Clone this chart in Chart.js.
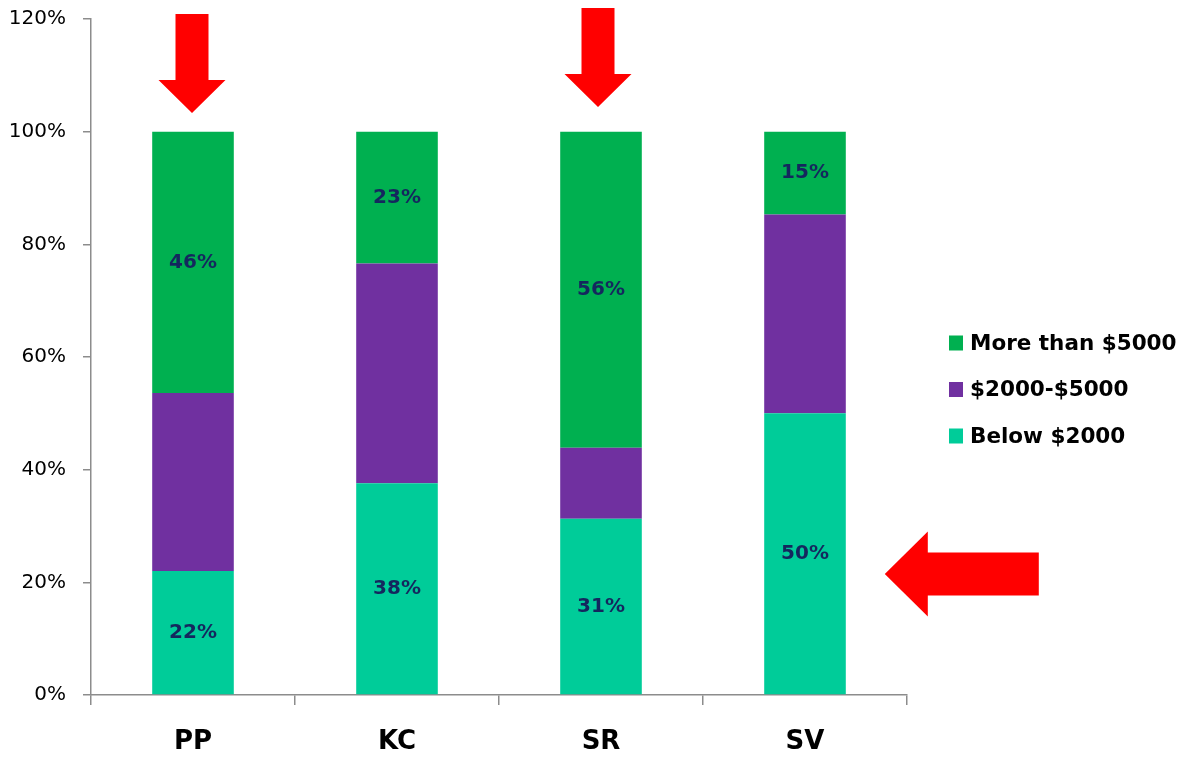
<!DOCTYPE html>
<html>
<head>
<meta charset="utf-8">
<script src="https://cdn.jsdelivr.net/npm/chart.js@4/dist/chart.umd.min.js"></script>
<style>
  html, body { margin: 0; padding: 0; background: #fff; }
  #wrap { width: 1183px; height: 757px; position: relative; }
</style>
</head>
<body>
<div id="wrap"><canvas id="chart"></canvas></div>
<script>
// data (percent of each city's households)
const cities = ['PP', 'KC', 'SR', 'SV'];
const below2000 = [22.0, 37.6, 31.3, 50.0];
const from2000to5000 = [31.6, 39.0, 12.6, 35.3];
const above5000 = [46.4, 23.4, 56.1, 14.7];
const yTicks = [0, 20, 40, 60, 80, 100, 120];

// red callout arrows: which bar they point at and where the tip sits (in %)
const arrows = [
    { city: 'PP', value: 103.3, dir: 'down', dx: -1 },
    { city: 'SR', value: 104.4, dir: 'down', dx: -3 },
    { city: 'SV', value: 21.5, dir: 'left', dx: 39 }
];

const axisGrey = '#8c8c8c';
const labelNavy = '#14275e';

// numbers in the middle of the teal and green blocks
const segmentLabels = {
    id: 'segmentLabels',
    afterDatasetsDraw(chart) {
        const ctx = chart.ctx;
        ctx.save();
        ctx.font = 'bold 20px "DejaVu Sans"';
        ctx.fillStyle = labelNavy;
        ctx.textAlign = 'center';
        ctx.textBaseline = 'middle';
        chart.data.datasets.forEach((ds, i) => {
            if (!ds.showLabel) return;
            chart.getDatasetMeta(i).data.forEach((bar, j) => {
                const y = (bar.y + bar.base) / 2;
                ctx.fillText(Math.round(ds.data[j]) + '%', bar.x, y);
            });
        });
        ctx.restore();
    }
};

function arrowPath(ctx, tipX, tipY, dir) {
    // sizes of the arrows in the picture
    const down = { len: 99, shaft: 33, head: 67, headLen: 33 };
    const left = { len: 154, shaft: 43, head: 85, headLen: 43 };
    ctx.beginPath();
    if (dir === 'down') {
        const a = down;
        ctx.moveTo(tipX, tipY);
        ctx.lineTo(tipX - a.head / 2, tipY - a.headLen);
        ctx.lineTo(tipX - a.shaft / 2, tipY - a.headLen);
        ctx.lineTo(tipX - a.shaft / 2, tipY - a.len);
        ctx.lineTo(tipX + a.shaft / 2, tipY - a.len);
        ctx.lineTo(tipX + a.shaft / 2, tipY - a.headLen);
        ctx.lineTo(tipX + a.head / 2, tipY - a.headLen);
    } else {
        const a = left;
        ctx.moveTo(tipX, tipY);
        ctx.lineTo(tipX + a.headLen, tipY - a.head / 2);
        ctx.lineTo(tipX + a.headLen, tipY - a.shaft / 2);
        ctx.lineTo(tipX + a.len, tipY - a.shaft / 2);
        ctx.lineTo(tipX + a.len, tipY + a.shaft / 2);
        ctx.lineTo(tipX + a.headLen, tipY + a.shaft / 2);
        ctx.lineTo(tipX + a.headLen, tipY + a.head / 2);
    }
    ctx.closePath();
}

const calloutArrows = {
    id: 'calloutArrows',
    afterDraw(chart) {
        const ctx = chart.ctx;
        const xs = chart.scales.x, ys = chart.scales.y;
        const meta = chart.getDatasetMeta(0);
        ctx.save();
        ctx.fillStyle = '#ff0000';
        arrows.forEach(a => {
            const idx = cities.indexOf(a.city);
            const bar = meta.data[idx];
            let tipX;
            if (a.dir === 'down') tipX = xs.getPixelForValue(idx) + a.dx;
            else tipX = bar.x + bar.width / 2 + a.dx;
            const tipY = ys.getPixelForValue(a.value);
            arrowPath(ctx, tipX, tipY, a.dir);
            ctx.fill();
        });
        ctx.restore();
    }
};

// legend on the right, top entry is the top block
const sideLegend = {
    id: 'sideLegend',
    afterDraw(chart) {
        const ctx = chart.ctx;
        const area = chart.chartArea;
        const boxX = area.right + 42;
        const firstY = 343;
        const rowGap = 46.5;
        ctx.save();
        ctx.font = 'bold 21.5px "DejaVu Sans"';
        ctx.textBaseline = 'middle';
        ctx.textAlign = 'left';
        const items = chart.data.datasets.slice().reverse();
        items.forEach((ds, k) => {
            const y = firstY + k * rowGap;
            ctx.fillStyle = ds.backgroundColor;
            ctx.fillRect(boxX, y - 7.5, 14, 15);
            ctx.fillStyle = '#000';
            ctx.fillText(ds.label, boxX + 21, y + 1);
        });
        ctx.restore();
    }
};

const chart = document.querySelector('#chart').getContext('2d');

new Chart(chart, {
    type: 'bar',
    data: {
        labels: cities,
        datasets: [
            {
                label: 'Below $2000',
                data: below2000,
                backgroundColor: '#00cc99',
                showLabel: true
            },
            {
                label: '$2000-$5000',
                data: from2000to5000,
                backgroundColor: '#7030a0',
                showLabel: false
            },
            {
                label: 'More than $5000',
                data: above5000,
                backgroundColor: '#00b050',
                showLabel: true
            }
        ]
    },
    options: {
        responsive: true,
        maintainAspectRatio: false,
        animation: false,
        events: [],
        layout: { padding: { top: 19, right: 276, left: 0, bottom: 0 } },
        datasets: {
            bar: { categoryPercentage: 1, barPercentage: 0.4, borderWidth: 0 }
        },
        plugins: {
            legend: { display: false },
            tooltip: { enabled: false }
        },
        scales: {
            x: {
                stacked: true,
                border: { color: axisGrey, width: 1.5 },
                grid: {
                    display: true,
                    offset: true,
                    drawOnChartArea: false,
                    tickLength: 10,
                    lineWidth: 1.5,
                    color: axisGrey
                },
                ticks: {
                    color: '#000',
                    padding: 22,
                    font: { family: 'DejaVu Sans', size: 26, weight: 'bold' }
                },
                afterFit(scale) { scale.height = 62; }
            },
            y: {
                stacked: true,
                min: 0,
                max: 120,
                border: { color: axisGrey, width: 1.5 },
                grid: {
                    display: true,
                    drawOnChartArea: false,
                    tickLength: 8,
                    lineWidth: 1.5,
                    color: axisGrey
                },
                afterBuildTicks(scale) {
                    scale.ticks = yTicks.map(v => ({ value: v }));
                },
                ticks: {
                    color: '#000',
                    padding: 17,
                    font: { family: 'DejaVu Sans', size: 20 },
                    callback: v => v + '%'
                },
                afterFit(scale) {
                    scale.width = 91;
                    scale.paddingTop = 0;
                    scale.paddingBottom = 0;
                }
            }
        }
    },
    plugins: [segmentLabels, calloutArrows, sideLegend]
});
</script>
</body>
</html>
